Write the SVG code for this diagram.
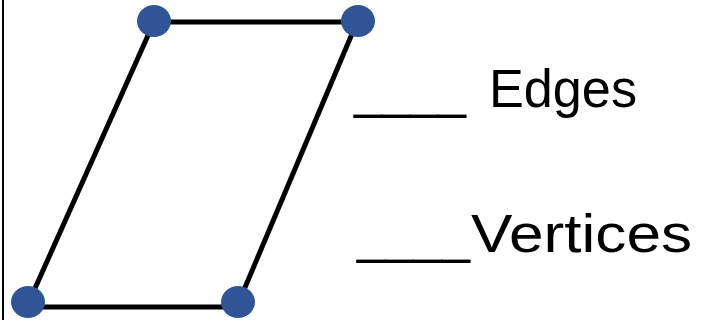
<svg xmlns="http://www.w3.org/2000/svg" width="704" height="320" viewBox="0 0 704 320">
<style>
.edge{stroke:#000;stroke-width:5;fill:none}
.vertex{fill:#2f5597}
.lbl{font-family:"Liberation Sans","DejaVu Sans",sans-serif;font-size:54px;fill:#000}
</style>
<rect x="0" y="0" width="704" height="320" fill="#fff"/>
<line x1="3" y1="0" x2="3" y2="320" stroke="#000" stroke-width="2"/>
<g id="connectors">
<line class="edge" x1="154" y1="22" x2="357" y2="22"/>
<line class="edge" x1="154" y1="22" x2="28" y2="304"/>
<line class="edge" x1="357" y1="22" x2="238" y2="304"/>
<line class="edge" x1="28" y1="307" x2="238" y2="307"/>
</g>
<g id="v-top-left"><ellipse class="vertex" cx="154" cy="21" rx="17" ry="16"/></g>
<g id="v-top-right"><ellipse class="vertex" cx="358" cy="21" rx="17" ry="16"/></g>
<g id="v-bottom-left"><ellipse class="vertex" cx="28" cy="302" rx="17" ry="16"/></g>
<g id="v-bottom-right"><ellipse class="vertex" cx="238" cy="302" rx="17" ry="16"/></g>
<g id="label-edges"><text class="lbl" y="107"><tspan x="354" textLength="112" lengthAdjust="spacingAndGlyphs">____</tspan><tspan x="489" textLength="148" lengthAdjust="spacingAndGlyphs">Edges</tspan></text></g>
<g id="label-vertices"><text class="lbl" y="252"><tspan x="357" textLength="113" lengthAdjust="spacingAndGlyphs">____</tspan><tspan x="471" textLength="221" lengthAdjust="spacingAndGlyphs">Vertices</tspan></text></g>
</svg>
